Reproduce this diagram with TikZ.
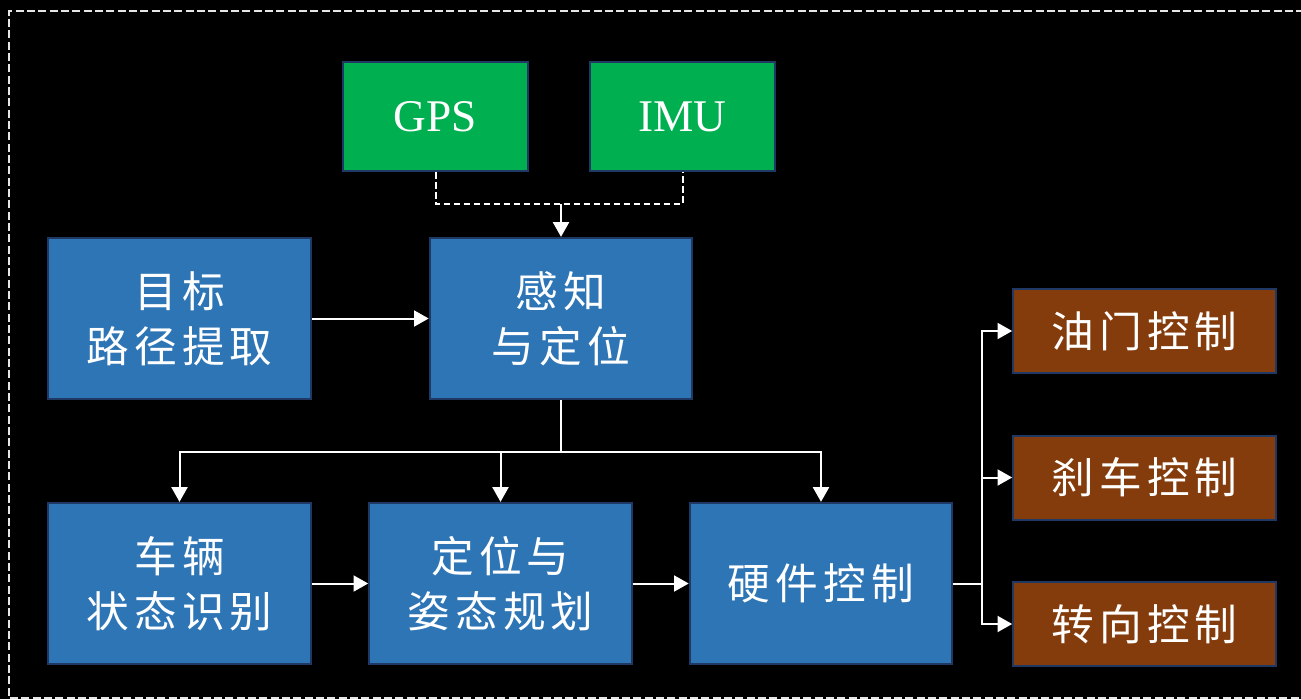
\documentclass[tikz,border=0pt]{standalone}
\usepackage{fontspec}
\setmainfont{Liberation Serif}
\newfontfamily\cjk[LetterSpace=12]{Noto Sans CJK SC}
\usetikzlibrary{arrows.meta}
\definecolor{boxblue}{HTML}{2E75B6}
\definecolor{boxgreen}{HTML}{00B050}
\definecolor{boxbrown}{HTML}{843C0C}
\definecolor{edgenavy}{HTML}{203864}
\definecolor{framegray}{HTML}{E6E6E6}
\tikzset{
  box/.style={draw=edgenavy, line width=1.5pt, text=white, align=center,
    inner sep=0pt, font=\cjk\fontsize{32}{41}\selectfont},
  bluebox/.style={box, fill=boxblue, minimum width=197pt, minimum height=121pt},
  greenbox/.style={box, fill=boxgreen, minimum width=139pt, minimum height=82pt,
    font=\fontsize{34}{38}\selectfont},
  brownbox/.style={box, fill=boxbrown, minimum width=197pt, minimum height=63pt},
  conn/.style={draw=white, line width=1.5pt},
  arr/.style={conn, -{Triangle[length=11pt,width=12pt]}},
  dashconn/.style={conn, dash pattern=on 5pt off 2.5pt},
}
\begin{document}
\begin{tikzpicture}[x=0.75pt,y=-0.75pt]
  \useasboundingbox (0,0) rectangle (1301,699);
  \fill[black] (0,0) rectangle (1301,699);
  % dashed outer frame
  \draw[framegray, line width=2pt, dash pattern=on 6pt off 2.5pt]
    (1310,698) -- (9,698) -- (9,11) -- (1310,11);

  % sensors
  \node[greenbox] (gps) at (435.5,116.5) {GPS};
  \node[greenbox] (imu) at (682.5,116.5) {IMU};

  % upper row
  \node[bluebox] (goal) at (179.5,318.5) {目标\\路径提取};
  \node[bluebox] (pf)   at (561,318.5)   {感知\\与定位};

  % lower row
  \node[bluebox] (veh)  at (179.5,583.5) {车辆\\状态识别};
  \node[bluebox] (plan) at (500.5,583.5) {定位与\\姿态规划};
  \node[bluebox] (hw)   at (821,583.5)   {硬件控制};

  % actuators
  \node[brownbox] (thr)   at (1144.5,331)   {油门控制};
  \node[brownbox] (brake) at (1144.5,477.5) {刹车控制};
  \node[brownbox] (steer) at (1144.5,624)   {转向控制};

  % sensor fusion into perception
  \coordinate (j1) at (561,204);
  \draw[dashconn] (gps.south) |- (j1) -| (imu.south);
  \draw[arr] (j1) -- (pf.north);

  \draw[arr] (goal.east) -- (pf.west);

  % perception fans out to the lower row
  \draw[conn] (pf.south) -- ++(0,52) coordinate (j2);
  \draw[arr] (j2) -| (veh.north);
  \draw[arr] (j2) -| (plan.north);
  \draw[arr] (j2) -| (hw.north);

  \draw[arr] (veh.east) -- (plan.west);
  \draw[arr] (plan.east) -- (hw.west);

  % hardware control drives the actuators
  \draw[conn] (hw.east) -- (982,583.5) coordinate (j3);
  \draw[arr] (j3) |- (thr.west);
  \draw[arr] (j3) |- (brake.west);
  \draw[arr] (j3) |- (steer.west);
\end{tikzpicture}
\end{document}
